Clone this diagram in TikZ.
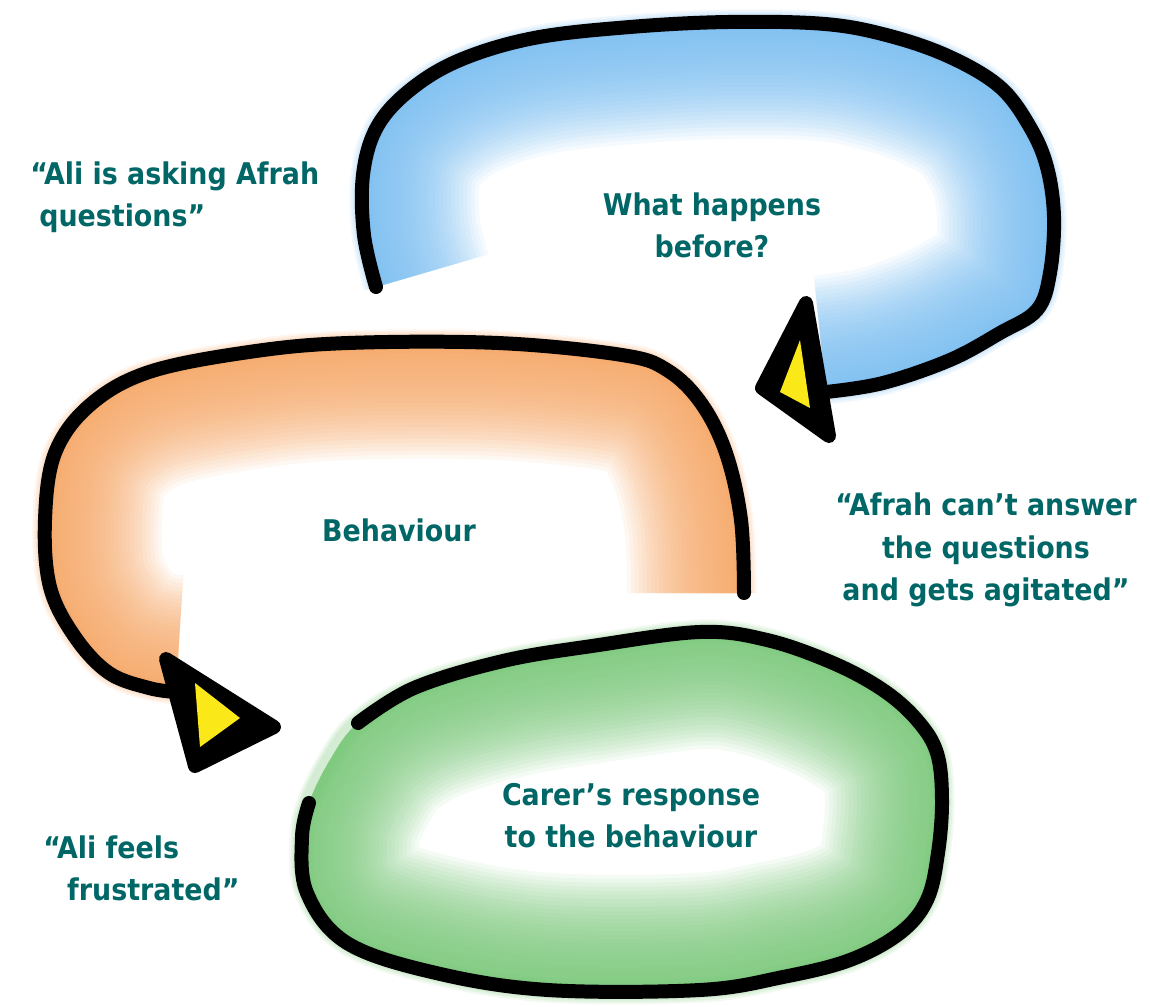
\documentclass[tikz,border=0pt]{standalone}
\usepackage{fontspec}
\newfontfamily\labelfont{DejaVuSansCondensed-Bold.ttf}
\usepackage{tikz}
\usepackage{xcolor}
\definecolor{bluewash}{RGB}{120,188,240}
\definecolor{orangewash}{RGB}{245,165,100}
\definecolor{greenwash}{RGB}{120,198,120}
\definecolor{textteal}{RGB}{0,102,102}
\definecolor{arrowyellow}{RGB}{250,232,25}

\begin{document}
\begin{tikzpicture}[x=0.02cm,y=-0.02cm,
  outline/.style={line width=0.28cm,line cap=round,line join=round},
  saying/.style={font=\labelfont\fontsize{17}{24}\selectfont,text=textteal,inner sep=0pt}]
 \useasboundingbox (0,0) rectangle (1150,1007);
 \def\blueline{plot[smooth,tension=0.6] coordinates {(376,287) (364,235) (363,175) (377,127) (410,90) (460,60) (534,38) (630,27) (728,22) (825,24) (890,36) (950,57) (1000,87) (1030,127) (1047,167) (1054,217) (1050,273) (1037,310) (1000,333) (950,360) (883,383) (826,392)}}
 \def\orangeline{plot[smooth,tension=0.6] coordinates {(744,593) (741,520) (726,453) (701,403) (667,370) (622,355) (498,343) (348,343) (249,352) (149,372) (90,405) (55,453) (45,520) (50,587) (75,637) (109,673) (149,688) (176,692)}}
 \def\greenline{plot[smooth,tension=0.6] coordinates {(358,723) (414,688) (503,661) (592,646) (700,632) (767,640) (833,663) (883,690) (917,720) (937,753) (942,800) (938,853) (927,900) (900,933) (850,960) (783,977) (700,990) (548,990) (436,973) (347,943) (307,893) (302,837) (309,803)}}
 \def\greenring{plot[smooth cycle,tension=0.6] coordinates {(358,723) (414,688) (503,661) (592,646) (700,632) (767,640) (833,663) (883,690) (917,720) (937,753) (942,800) (938,853) (927,900) (900,933) (850,960) (783,977) (700,990) (548,990) (436,973) (347,943) (307,893) (302,837) (309,803) (330,760)}}

 \begin{scope}
  \clip \blueline -- (780,350) -- (560,318) -- (420,310) -- cycle;
  \foreach \w in {10,18,...,234}{
   \pgfmathsetmacro{\lw}{\w*0.02}
   \draw[bluewash,line width=\lw cm,opacity=0.08] \blueline;
  }
 \end{scope}
 \begin{scope}
  \clip \orangeline -- (300,690) -- (550,640) -- (744,600) -- cycle;
  \foreach \w in {10,18,...,234}{
   \pgfmathsetmacro{\lw}{\w*0.02}
   \draw[orangewash,line width=\lw cm,opacity=0.08] \orangeline;
  }
 \end{scope}
 \begin{scope}
  \clip \greenring;
  \foreach \w in {10,18,...,234}{
   \pgfmathsetmacro{\lw}{\w*0.02}
   \draw[greenwash,line width=\lw cm,opacity=0.08] \greenring;
  }
 \end{scope}
 \foreach \w/\o in {0.5/0.1,0.42/0.12,0.34/0.15}{
  \draw[bluewash,line width=\w cm,opacity=\o] \blueline;
  \draw[orangewash,line width=\w cm,opacity=\o] \orangeline;
  \draw[greenwash,line width=\w cm,opacity=\o] \greenring;
 }

 \draw[outline] \blueline;
 \draw[outline] \orangeline;
 \draw[outline] \greenline;

 \filldraw[outline] (806,303) -- (762,388) -- (829,436) -- cycle;
 \fill[arrowyellow] (800,340) -- (780,392) -- (810,408) -- cycle;
 \filldraw[outline] (166,659) -- (274,727) -- (195,766) -- cycle;
 \fill[arrowyellow] (195,683) -- (240,718) -- (200,747) -- cycle;

 \node[saying,anchor=west,align=left] (ask) at (30,197) {“Ali is asking Afrah\\\hspace*{0.3em}questions”};
 \node[saying,align=center] (before) at (712,225) {What happens\\before?};
 \node[saying] (behav) at (399,530) {Behaviour};
 \node[saying,align=center] (agit) at (986,550) {“Afrah can’t answer\\the questions\\and gets agitated”};
 \node[saying,align=center] (resp) at (631,816) {Carer’s response\\to the behaviour};
 \node[saying,anchor=west,align=left] (frus) at (43,868) {“Ali feels\\\hspace*{0.8em}frustrated”};
\end{tikzpicture}
\end{document}
